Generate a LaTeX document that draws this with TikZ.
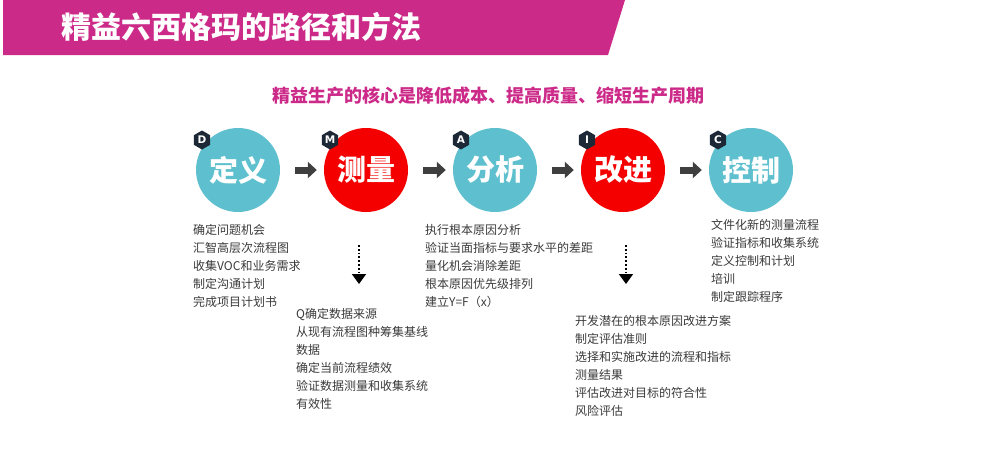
\documentclass[tikz,border=0pt]{standalone}
\usepackage{fontspec}
\setmainfont{Noto Sans CJK SC}
\newfontfamily\badgefont{DejaVu Sans}
\usetikzlibrary{arrows.meta,shapes.geometric}
\definecolor{mag}{HTML}{CC2A88}
\definecolor{teal6}{HTML}{5EC0CE}
\definecolor{red6}{HTML}{F50000}
\definecolor{navy6}{HTML}{1C2836}
\definecolor{txt}{HTML}{3A3A3A}
\definecolor{arr}{HTML}{3F3F3F}
\tikzset{
  x=1pt,y=-1pt,
  stage/.style={circle,minimum size=84pt,inner sep=0pt,text=white,font=\fontsize{29}{30}\selectfont\bfseries},
  badge/.style={regular polygon,regular polygon sides=6,shape border rotate=30,fill=navy6,minimum size=19pt,inner sep=0pt,text=white,font=\fontsize{10.5}{10.5}\selectfont\badgefont\bfseries},
  flow/.style={draw=arr,line width=7pt,-{Triangle[length=9pt,width=16pt]},shorten <=15pt,shorten >=7pt},
  dotarrow/.style={draw=black,line width=1.8pt,dotted,-{Triangle[length=10pt,width=14pt]}},
  list/.style={anchor=north west,inner sep=0pt,align=left,text=txt,font=\fontsize{12}{18}\selectfont},
}
\begin{document}
\begin{tikzpicture}
\useasboundingbox (0,0) rectangle (993,455);
\fill[mag] (3,0) -- (625,0) -- (608,55) -- (3,55) -- cycle;
\node[text=white,anchor=west,font=\fontsize{30}{30}\selectfont\bfseries] (title) at (58,27) {精益六西格玛的路径和方法};
\node[text=mag,font=\fontsize{18}{20}\selectfont\bfseries] (sub) at (488,96) {精益生产的核心是降低成本、提高质量、缩短生产周期};

\node[stage,fill=teal6] (d) at (238,170) {定义};
\node[stage,fill=red6] (m) at (366,170) {测量};
\node[stage,fill=teal6] (a) at (495,170) {分析};
\node[stage,fill=red6] (i) at (623,170) {改进};
\node[stage,fill=teal6] (c) at (751,170) {控制};

\node[badge] (bd) at (202,140) {D};
\node[badge] (bm) at (330,140) {M};
\node[badge] (ba) at (461,140) {A};
\node[badge] (bi) at (587,140) {I};
\node[badge] (bc) at (718,140) {C};

\draw[flow] (d) -- (m);
\draw[flow] (m) -- (a);
\draw[flow] (a) -- (i);
\draw[flow] (i) -- (c);

\node[list] (ld) at (193,224) {确定问题机会\\汇智高层次流程图\\收集VOC和业务需求\\制定沟通计划\\完成项目计划书};
\node[list] (lm) at (296,308) {Q确定数据来源\\从现有流程图种筹集基线\\数据\\确定当前流程绩效\\验证数据测量和收集系统\\有效性};
\node[list] (la) at (425,224) {执行根本原因分析\\验证当面指标与要求水平的差距\\量化机会消除差距\\根本原因优先级排列\\建立Y=F（x）};
\node[list] (li) at (575,315) {开发潜在的根本原因改进方案\\制定评估准则\\选择和实施改进的流程和指标\\测量结果\\评估改进对目标的符合性\\风险评估};
\node[list] (lc) at (711,219) {文件化新的测量流程\\验证指标和收集系统\\定义控制和计划\\培训\\制定跟踪程序};

\coordinate (m1) at (359,245);
\coordinate (m2) at (359,284);
\coordinate (i1) at (626,245);
\coordinate (i2) at (626,284);
\draw[dotarrow] (m1) -- (m2);
\draw[dotarrow] (i1) -- (i2);
\end{tikzpicture}
\end{document}
